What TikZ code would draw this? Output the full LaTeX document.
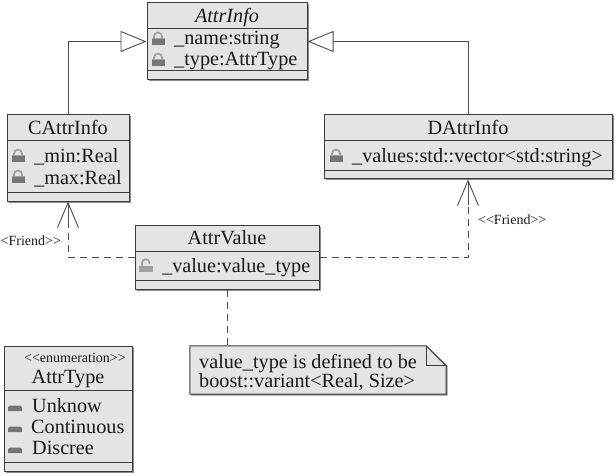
\documentclass[tikz,border=0pt]{standalone}
\usepackage{fontspec}
\setmainfont{Liberation Serif}
\usetikzlibrary{arrows.meta,shadows}
\definecolor{boxfill}{HTML}{E4E4E4}
\definecolor{edge}{HTML}{3C3C3C}
\definecolor{lockdark}{HTML}{757575}
\definecolor{locklight}{HTML}{A0A0A0}
\tikzset{
  x=1pt,y=-1pt,
  umlbox/.style={draw=edge,line width=1pt,fill=boxfill,inner sep=0pt,
    drop shadow={shadow xshift=1.5pt,shadow yshift=-1.5pt,fill=gray!90,opacity=1}},
  sep/.style={draw=edge,line width=1pt},
  txt/.style={inner sep=0pt,anchor=base west,font=\fontsize{20.2}{20}\selectfont,text=black!90},
  ttl/.style={inner sep=0pt,anchor=base,font=\fontsize{20.2}{20}\selectfont,text=black!90},
  small/.style={inner sep=0pt,anchor=base west,font=\fontsize{14}{14}\selectfont,text=black!90},
  conn/.style={draw=black!70,line width=.9pt},
  friend/.style={conn,dash pattern=on 7pt off 5pt},
  gen/.style={conn,-{Triangle[open,fill=white,length=26pt,width=21pt]}},
  barb/.style={conn,-{Straight Barb[length=25pt,width=21pt]}},
  pics/lockclosed/.style={code={
    \fill[lockdark] (-6.5,0) rectangle (6.5,-6);
    \fill[locklight] (-6.5,-6) rectangle (6.5,-7);
    \draw[locklight,line width=1.7pt] (-4,-6.5) -- (-4,-8.5) arc[start angle=180,end angle=360,radius=4] -- (4,-6.5);
  }},
  pics/lockopen/.style={code={
    \fill[locklight] (-7,0) rectangle (7,-6);
    \draw[locklight,line width=1.7pt] (-4,-6) -- (-4,-9) arc[start angle=180,end angle=360,radius=3.8] -- (3.6,-8);
  }},
  pics/enumitem/.style={code={
    \fill[lockdark] (-7,0) -- (7,0) -- (7,-4) -- (5,-5.5) -- (-5,-5.5) -- (-7,-4) -- cycle;
  }}
}
\begin{document}
\begin{tikzpicture}
\useasboundingbox (0,0) rectangle (616,476);
% class boxes
\node[umlbox,minimum width=160pt,minimum height=77pt] (attrinfo) at (227,41.5) {};
\node[umlbox,minimum width=122pt,minimum height=86pt] (cattr) at (68,158) {};
\node[umlbox,minimum width=288pt,minimum height=64pt] (dattr) at (468,147) {};
\node[umlbox,minimum width=184pt,minimum height=64pt] (attrvalue) at (227,257) {};
\node[umlbox,minimum width=128pt,minimum height=125pt] (attrtype) at (68,408.5) {};
% note
\node[inner sep=0pt,minimum width=256pt,minimum height=48pt] (note) at (318,370) {};
\fill[gray!90] ([shift={(1.5,1.5)}]note.north west) -- ([shift={(-20,0)}]note.north east) -- ([shift={(1.5,20)}]note.north east) -- ([shift={(1.5,1.5)}]note.south east) -- ([shift={(1.5,1.5)}]note.south west) -- cycle;
\draw[sep,fill=boxfill] (note.north west) -- ([shift={(-20,0)}]note.north east) -- ([shift={(0,20)}]note.north east) -- (note.south east) -- (note.south west) -- cycle;
\draw[sep] ([shift={(-20,0)}]note.north east) -- ([shift={(-20,20)}]note.north east) -- ([shift={(0,20)}]note.north east);
% separators
\draw[sep] (147,29) -- (307,29) (147,71) -- (307,71);
\draw[sep] (7,141) -- (129,141) (7,192) -- (129,192);
\draw[sep] (324,141) -- (612,141) (324,171) -- (612,171);
\draw[sep] (135,251) -- (319,251) (135,280) -- (319,280);
\draw[sep] (4,390) -- (132,390) (4,462) -- (132,462);
% icons
\pic at (158,45) {lockclosed};
\pic at (158,66) {lockclosed};
\pic at (18,162) {lockclosed};
\pic at (18,183) {lockclosed};
\pic at (336,162) {lockclosed};
\pic at (146,272) {lockopen};
\pic at (15,411) {enumitem};
\pic at (15,432) {enumitem};
\pic at (15,453) {enumitem};
% text
\node[ttl,font=\fontsize{20.2}{20}\selectfont\itshape] (t1) at (227,23) {AttrInfo};
\node[txt] (a1) at (174,45) {\_name:string};
\node[txt] (a2) at (174,66) {\_type:AttrType};
\node[ttl] (t2) at (68,135) {CAttrInfo};
\node[txt] (b1) at (34,163) {\_min:Real};
\node[txt] (b2) at (34,184) {\_max:Real};
\node[ttl] (t3) at (468,135) {DAttrInfo};
\node[txt] (c1) at (352,163) {\_values:std::vector<std:string>};
\node[ttl] (t4) at (227,244) {AttrValue};
\node[txt] (d1) at (162,272) {\_value:value\_type};
\node[txt,anchor=west,align=left,font=\fontsize{20.2}{18}\selectfont] (n1) at (199,372.5) {value\_type is defined to be\\boost::variant<Real, Size>};
\node[small] (s1) at (24,362) {<{}<enumeration>{}>};
\node[ttl] (t5) at (68,383) {AttrType};
\node[txt] (e1) at (32,412) {Unknow};
\node[txt] (e2) at (31,433) {Continuous};
\node[txt] (e3) at (32,454) {Discree};
\node[small] (f1) at (0.5,245) {<Friend>{}>};
\node[small] (f2) at (478,224) {<{}<Friend>{}>};
% connectors
\draw[gen] (cattr.north) |- (attrinfo.west);
\draw[gen] (dattr.north) |- (attrinfo.east);
\draw[friend] (attrvalue.west) -| ([shift={(0,25)}]cattr.south);
\draw[friend] (attrvalue.east) -| ([shift={(0,25)}]dattr.south);
\draw[barb] ([shift={(0,25)}]cattr.south) -- (cattr.south);
\draw[barb] ([shift={(0,25)}]dattr.south) -- (dattr.south);
\draw[friend] (attrvalue.south) -- (attrvalue.south |- note.north);
\end{tikzpicture}
\end{document}
